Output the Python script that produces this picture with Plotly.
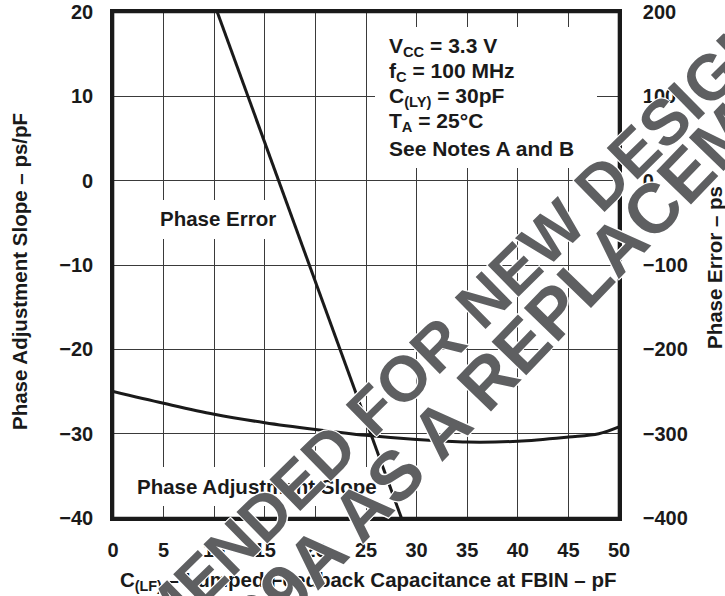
import plotly.graph_objects as go

# ---- data ----
cap_pf = [0, 5, 10, 15, 20, 25, 30, 35, 40, 45, 48, 50]
adj_slope = [-25.0, -26.4, -27.7, -28.7, -29.5, -30.2, -30.7, -31.0, -30.9, -30.4, -30.0, -29.2]

err_cap_pf = [10.3, 19.4, 28.5]
phase_error = [200, -100, -400]

x_ticks = [0, 5, 10, 15, 20, 25, 30, 35, 40, 45, 50]
y_ticks = [-40, -30, -20, -10, 0, 10, 20]
y2_ticks = [-400, -300, -200, -100, 0, 100, 200]

conditions = ["V<sub>CC</sub> = 3.3 V", "f<sub>C</sub> = 100 MHz", "C<sub>(LY)</sub> = 30pF",
              "T<sub>A</sub> = 25\u00b0C", "See Notes A and B"]

FONT = "Liberation Sans, Arial, sans-serif"
INK = "#1a1a1a"
W, H = 725, 596
# plot area in page pixels: x 113..619, y 12..518
PX0, PX1, PY0, PY1 = 113, 619, 12, 518
L, T, R, B = PX0, PY0, W - PX1, H - PY1
PW, PH = PX1 - PX0, PY1 - PY0


def px(x):
    return (x - PX0) / PW


def py(y):
    return (PY1 - y) / PH


def fmt(v):
    return ("\u2212" + str(-v)) if v < 0 else str(v)


fig = go.Figure()
fig.add_trace(go.Scatter(x=cap_pf, y=adj_slope, mode="lines", line=dict(color=INK, width=3, shape="spline"),
                         name="Phase Adjustment Slope", showlegend=False))
fig.add_trace(go.Scatter(x=err_cap_pf, y=phase_error, mode="lines", line=dict(color=INK, width=3),
                         yaxis="y2", name="Phase Error", showlegend=False))

tickfont = dict(family=FONT, size=20, color=INK, weight="bold")

fig.update_layout(
    width=W, height=H,
    margin=dict(l=L, r=R, t=T, b=B, autoexpand=False),
    paper_bgcolor="white", plot_bgcolor="white",
    font=dict(family=FONT, color=INK),
    xaxis=dict(range=[0, 50], tickvals=x_ticks, ticktext=[str(v) for v in x_ticks],
               showgrid=True, gridcolor="#3a3a3a", gridwidth=1.3,
               showline=True, linecolor=INK, linewidth=2.6, mirror=True,
               ticks="", tickfont=tickfont, ticklabelstandoff=12, zeroline=False, automargin=False),
    yaxis=dict(range=[-40, 20], tickvals=y_ticks, ticktext=[fmt(v) for v in y_ticks],
               showgrid=True, gridcolor="#3a3a3a", gridwidth=1.3,
               showline=True, linecolor=INK, linewidth=2.6, mirror=True,
               ticks="", tickfont=tickfont, ticklabelstandoff=13, zeroline=False, automargin=False),
    yaxis2=dict(range=[-400, 200], tickvals=y2_ticks, ticktext=[fmt(v) for v in y2_ticks],
                overlaying="y", side="right", showgrid=False, zeroline=False,
                showline=True, linecolor=INK, linewidth=2.6,
                ticks="", tickfont=tickfont, ticklabelstandoff=17, automargin=False),
)

# white knock-out boxes that hide the grid behind the labels (kept clear of the curves), and the frame
for (x0, x1, y0, y1) in [(375, 597, 27, 168), (150, 281, 200, 239), (124, 379, 467, 506)]:
    fig.add_shape(type="rect", xref="paper", yref="paper", x0=px(x0), x1=px(x1), y0=py(y1), y1=py(y0),
                  fillcolor="white", line=dict(width=0), layer="above")
fig.add_shape(type="rect", xref="paper", yref="paper", x0=0, x1=1, y0=0, y1=1,
              line=dict(color=INK, width=2.6), layer="above")

lab = dict(family=FONT, size=20.5, color=INK, weight="bold")
annotations = [
    dict(x=px(218), y=py(219), xref="paper", yref="paper", text="Phase Error", showarrow=False,
         font=lab, xanchor="center", yanchor="middle"),
    dict(x=px(257), y=py(486), xref="paper", yref="paper", text="Phase Adjustment Slope", showarrow=False,
         font=lab, xanchor="center", yanchor="middle"),
]
cond_y = [47, 72, 97, 122, 148]
for txt, yy in zip(conditions, cond_y):
    annotations.append(dict(x=px(387), y=py(yy), xref="paper", yref="paper", showarrow=False,
                            text=txt, xanchor="left", yanchor="middle",
                            font=dict(family=FONT, size=21, color=INK, weight="bold")))

annotations += [
    dict(x=px(368), y=py(581), xref="paper", yref="paper", showarrow=False,
         text="C<sub>(LF)</sub> \u2013 Lumped Feedback Capacitance at FBIN \u2013 pF",
         font=dict(family=FONT, size=20.5, color=INK, weight="bold"), xanchor="center", yanchor="middle"),
    dict(x=px(20), y=py(272), xref="paper", yref="paper", showarrow=False, textangle=-90,
         text="Phase Adjustment Slope \u2013 ps/pF",
         font=dict(family=FONT, size=20.5, color=INK, weight="bold"), xanchor="center", yanchor="middle"),
    dict(x=px(714), y=py(268), xref="paper", yref="paper", showarrow=False, textangle=-90,
         text="Phase Error \u2013 ps",
         font=dict(family=FONT, size=20.5, color=INK, weight="bold"), xanchor="center", yanchor="middle"),
]

wm_shadow = "1px 1px 0 white, -1px -1px 0 white, 1px -1px 0 white, -1px 1px 0 white"
annotations += [
    dict(x=px(330), y=py(451), xref="paper", yref="paper", showarrow=False, textangle=-44.5,
         text="NOT RECOMMENDED FOR NEW DESIGNS", xanchor="center", yanchor="middle",
         font=dict(family=FONT, size=64, color="#5e5f61", weight="bold", shadow=wm_shadow)),
    dict(x=px(375), y=py(497), xref="paper", yref="paper", showarrow=False, textangle=-46,
         text="USE CDCVF2509A AS A REPLACEMENT", xanchor="center", yanchor="middle",
         font=dict(family=FONT, size=70, color="#5e5f61", weight="bold", shadow=wm_shadow)),
]
fig.update_layout(annotations=annotations)

fig.write_html("out.html", config={"displayModeBar": False},
               post_script="document.body.style.margin='0';document.body.style.overflow='hidden';")
